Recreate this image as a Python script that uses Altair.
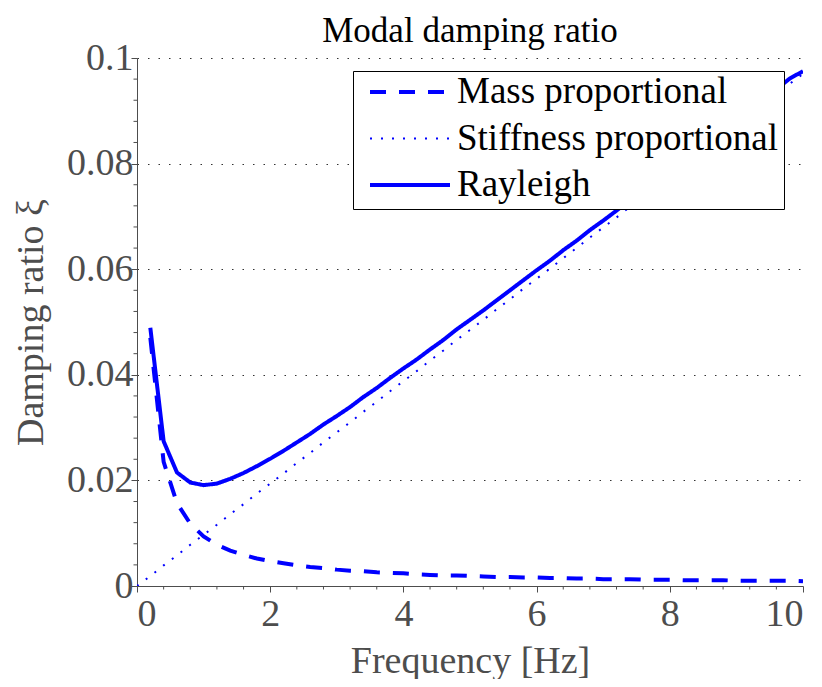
import altair as alt
import pandas as pd

# Frequencies (Hz)
freq = [0.2, 0.4, 0.6, 0.8, 1.0, 1.2, 1.4, 1.6, 1.8, 2.0,
        2.2, 2.4, 2.6, 2.8, 3.0, 3.2, 3.4, 3.6, 3.8, 4.0,
        4.2, 4.4, 4.6, 4.8, 5.0, 5.2, 5.4, 5.6, 5.8, 6.0,
        6.2, 6.4, 6.6, 6.8, 7.0, 7.2, 7.4, 7.6, 7.8, 8.0,
        8.2, 8.4, 8.6, 8.8, 9.0, 9.2, 9.4, 9.6, 9.8, 10.0]

mass = [0.0470, 0.0235, 0.0157, 0.0118, 0.0094, 0.0078, 0.0067, 0.0059, 0.0052, 0.0047,
        0.0043, 0.0039, 0.0036, 0.0034, 0.0031, 0.0029, 0.0028, 0.0026, 0.0025, 0.0024,
        0.0022, 0.0021, 0.0020, 0.0020, 0.0019, 0.0018, 0.0017, 0.0017, 0.0016, 0.0016,
        0.0015, 0.0015, 0.0014, 0.0014, 0.0013, 0.0013, 0.0013, 0.0012, 0.0012, 0.0012,
        0.0011, 0.0011, 0.0011, 0.0011, 0.0010, 0.0010, 0.0010, 0.0010, 0.0010, 0.0009]

stiff_freq = [0.0] + freq
stiffness = [0.0,
             0.0019, 0.0039, 0.0058, 0.0078, 0.0097, 0.0116, 0.0136, 0.0155, 0.0175, 0.0194,
             0.0213, 0.0233, 0.0252, 0.0272, 0.0291, 0.0310, 0.0330, 0.0349, 0.0369, 0.0388,
             0.0407, 0.0427, 0.0446, 0.0466, 0.0485, 0.0504, 0.0524, 0.0543, 0.0563, 0.0582,
             0.0601, 0.0621, 0.0640, 0.0660, 0.0679, 0.0698, 0.0718, 0.0737, 0.0757, 0.0776,
             0.0795, 0.0815, 0.0834, 0.0854, 0.0873, 0.0892, 0.0912, 0.0931, 0.0951, 0.0970]

rayleigh = [0.0489, 0.0274, 0.0215, 0.0196, 0.0191, 0.0194, 0.0203, 0.0214, 0.0227, 0.0241,
            0.0256, 0.0272, 0.0288, 0.0306, 0.0322, 0.0339, 0.0358, 0.0375, 0.0394, 0.0412,
            0.0429, 0.0448, 0.0466, 0.0486, 0.0504, 0.0522, 0.0541, 0.0560, 0.0579, 0.0598,
            0.0616, 0.0636, 0.0654, 0.0674, 0.0692, 0.0711, 0.0731, 0.0749, 0.0769, 0.0788,
            0.0806, 0.0826, 0.0845, 0.0865, 0.0883, 0.0902, 0.0922, 0.0941, 0.0961, 0.0975]

series = ["Mass proportional", "Stiffness proportional", "Rayleigh"]

x_major = [0, 2, 4, 6, 8, 10]
x_minor = [0.4, 0.8, 1.2, 1.6, 2.4, 2.8, 3.2, 3.6, 4.4, 4.8, 5.2, 5.6,
           6.4, 6.8, 7.2, 7.6, 8.4, 8.8, 9.2, 9.6]
y_major = [0, 0.02, 0.04, 0.06, 0.08, 0.1]
y_minor = [0.004, 0.008, 0.012, 0.016, 0.024, 0.028, 0.032, 0.036,
           0.044, 0.048, 0.052, 0.056, 0.064, 0.068, 0.072, 0.076,
           0.084, 0.088, 0.092, 0.096]

rows = []
for f, v in zip(freq, mass):
    rows.append({"f": f, "xi": v, "s": series[0]})
for f, v in zip(stiff_freq, stiffness):
    rows.append({"f": f, "xi": v, "s": series[1]})
for f, v in zip(freq, rayleigh):
    rows.append({"f": f, "xi": v, "s": series[2]})
df = pd.DataFrame(rows)

W, H = 666, 528
FONT = "Liberation Serif"
GRAY = "#4d4d4d"

xscale = alt.Scale(domain=[0, 10], nice=False, zero=False)
yscale = alt.Scale(domain=[0, 0.1], nice=False, zero=False)

lines = alt.Chart(df).mark_line(clip=True).encode(
    x=alt.X("f:Q", scale=xscale,
            axis=alt.Axis(values=x_major, format="d", title="Frequency [Hz]",
                          grid=False, tickSize=6, labelPadding=3, titlePadding=9)),
    y=alt.Y("xi:Q", scale=yscale,
            axis=alt.Axis(values=y_major, format="~g", title="Damping ratio ξ",
                          grid=True, gridDash=[1.5, 9], gridColor="#333333",
                          gridWidth=1, tickSize=6, labelPadding=-2, titlePadding=16)),
    color=alt.Color("s:N", scale=alt.Scale(domain=series,
                    range=["#0000ff", "#0000ff", "#0000ff"]),
                    legend=alt.Legend(title=None)),
    strokeDash=alt.StrokeDash("s:N", scale=alt.Scale(domain=series,
                              range=[[16, 13], [2, 9], [1, 0]]),
                              legend=alt.Legend(title=None)),
    strokeWidth=alt.StrokeWidth("s:N", scale=alt.Scale(type="ordinal", domain=series,
                                range=[4, 2, 4]),
                                legend=alt.Legend(title=None)),
    order="f:Q",
    detail="s:N",
)

xminor = alt.Chart(pd.DataFrame({"t": x_minor})).mark_rule(
    color=GRAY, strokeWidth=1).encode(
    x=alt.X("t:Q", scale=xscale), y=alt.value(H), y2=alt.value(H + 3.5))

yminor = alt.Chart(pd.DataFrame({"t": y_minor})).mark_rule(
    color=GRAY, strokeWidth=1).encode(
    y=alt.Y("t:Q", scale=yscale), x=alt.value(0), x2=alt.value(-3.5))

chart = alt.layer(lines, xminor, yminor).properties(
    width=W, height=H,
    title=alt.TitleParams("Modal damping ratio", font=FONT, fontSize=35,
                          fontWeight="normal", color="black", offset=-10,
                          frame="group"),
    autosize=alt.AutoSizeParams(type="none"),
    padding={"left": 129, "top": 50, "right": 11, "bottom": 93},
).configure_view(stroke=None).configure_axis(
    labelFont=FONT, labelFontSize=38, labelColor=GRAY,
    titleFont=FONT, titleFontSize=38, titleColor=GRAY, titleFontWeight="normal",
    domainColor=GRAY, tickColor=GRAY, domainWidth=1, tickWidth=1,
).configure_legend(
    orient="none", legendX=216, legendY=13,
    strokeColor="black", fillColor="white", padding=6,
    labelFont=FONT, labelFontSize=37, labelColor="black", labelLimit=0,
    symbolType="stroke", symbolSize=6400, symbolStrokeColor="#0000ff",
    symbolOffset=9, clipHeight=30,
    labelOffset=5, rowPadding=9.5, cornerRadius=0,
)

chart.save("out.html", embed_options={"renderer": "svg", "actions": False})
